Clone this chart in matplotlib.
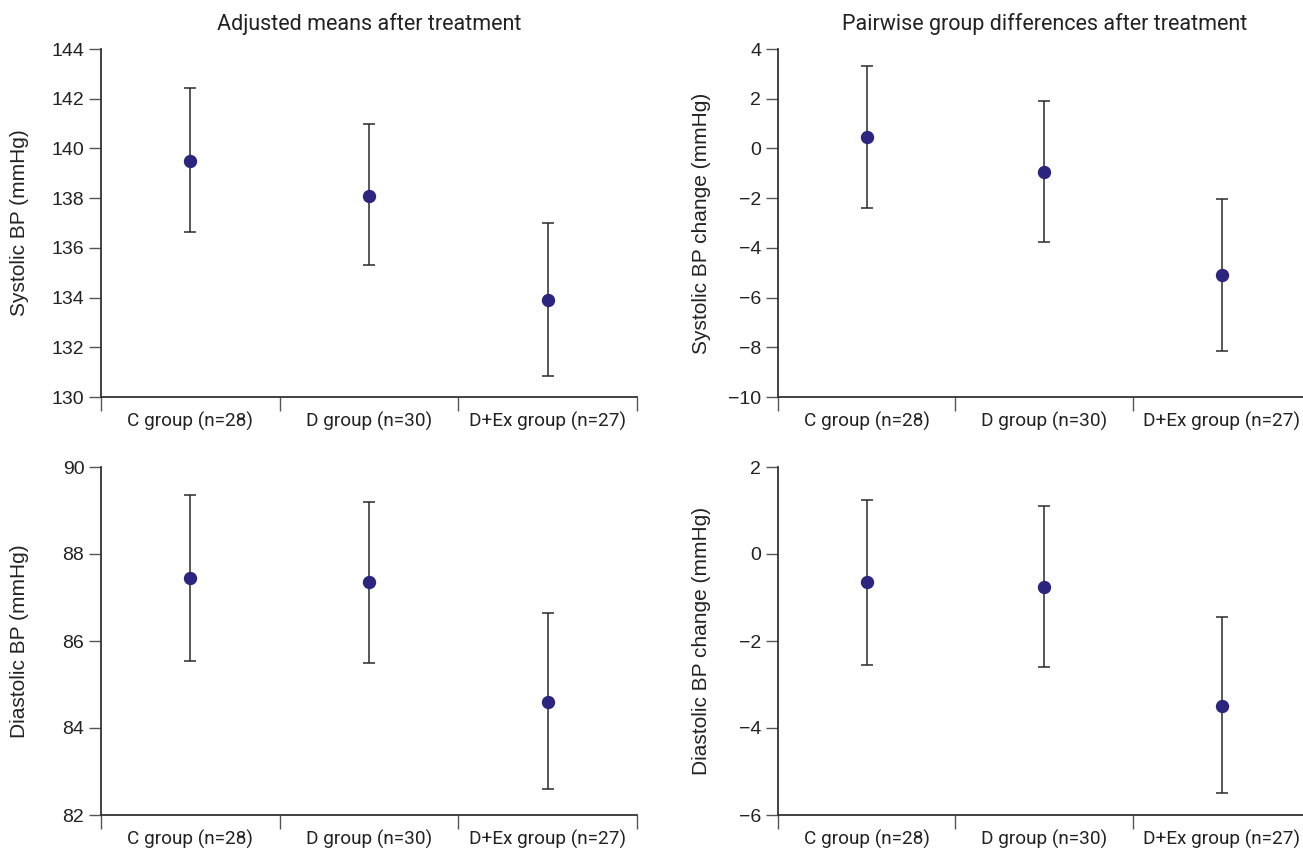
import matplotlib
matplotlib.use("Agg")
import matplotlib.pyplot as plt
from matplotlib import font_manager
from matplotlib.ticker import FixedLocator, NullFormatter, FixedFormatter

names = {f.name for f in font_manager.fontManager.ttflist}
cat_family = ['Roboto', 'DejaVu Sans'] if 'Roboto' in names else ['DejaVu Sans']

plt.rcParams['font.family'] = ['Liberation Sans', 'DejaVu Sans']

groups = ["C group (n=28)", "D group (n=30)", "D+Ex group (n=27)"]

sbp_mean = [139.5, 138.1, 133.9]
sbp_low = [136.65, 135.3, 130.85]
sbp_high = [142.45, 141.0, 137.0]

sbp_diff = [0.45, -0.95, -5.1]
sbp_diff_low = [-2.4, -3.75, -8.15]
sbp_diff_high = [3.3, 1.9, -2.05]

dbp_mean = [87.45, 87.35, 84.6]
dbp_low = [85.55, 85.5, 82.6]
dbp_high = [89.35, 89.2, 86.65]

dbp_diff = [-0.65, -0.75, -3.5]
dbp_diff_low = [-2.55, -2.6, -5.5]
dbp_diff_high = [1.25, 1.1, -1.45]

panels = [
    dict(pos=[101, 49, 536, 348], mean=sbp_mean, lo=sbp_low, hi=sbp_high,
         ylim=(130, 144), yticks=[130, 132, 134, 136, 138, 140, 142, 144],
         ylabel="Systolic BP (mmHg)", title="Adjusted means after treatment",
         neg=False, labx=29),
    dict(pos=[778, 49, 532.5, 348], mean=sbp_diff, lo=sbp_diff_low, hi=sbp_diff_high,
         ylim=(-10, 4), yticks=[-10, -8, -6, -4, -2, 0, 2, 4],
         ylabel="Systolic BP change (mmHg)",
         title="Pairwise group differences after treatment", neg=True, labx=711),
    dict(pos=[101, 467, 536, 348], mean=dbp_mean, lo=dbp_low, hi=dbp_high,
         ylim=(82, 90), yticks=[82, 84, 86, 88, 90],
         ylabel="Diastolic BP (mmHg)", title=None, neg=False, labx=29),
    dict(pos=[778, 467, 532.5, 348], mean=dbp_diff, lo=dbp_diff_low, hi=dbp_diff_high,
         ylim=(-6, 2), yticks=[-6, -4, -2, 0, 2],
         ylabel="Diastolic BP change (mmHg)", title=None, neg=True, labx=711),
]

W, H = 1303, 848
fig = plt.figure(figsize=(W / 100, H / 100), dpi=100)

axis_color = '#333333'
tick_color = '#555555'
text_color = '#222222'
marker_color = '#2b2580'

for p in panels:
    x0, y0, w, h = p['pos']
    ax = fig.add_axes([x0 / W, 1 - (y0 + h) / H, w / W, h / H])
    xs = [0.5, 1.5, 2.5]
    yerr = [[m - l for m, l in zip(p['mean'], p['lo'])],
            [hh - m for m, hh in zip(p['mean'], p['hi'])]]
    ax.errorbar(xs, p['mean'], yerr=yerr, fmt='o', color=marker_color,
                ecolor='#2a2a2a', elinewidth=1.1, capsize=4.4, capthick=1.1,
                markersize=8.6, zorder=3)
    ax.set_xlim(0, 3)
    ax.set_ylim(*p['ylim'])
    for s in ['top', 'right']:
        ax.spines[s].set_visible(False)
    for s in ['left', 'bottom']:
        ax.spines[s].set_color(axis_color)
        ax.spines[s].set_linewidth(1.3)
    ax.xaxis.set_major_locator(FixedLocator([0, 1, 2, 3]))
    ax.xaxis.set_major_formatter(NullFormatter())
    ax.xaxis.set_minor_locator(FixedLocator(xs))
    ax.xaxis.set_minor_formatter(FixedFormatter(groups))
    ax.tick_params(axis='x', which='major', length=10, width=1.0, color=tick_color)
    ax.tick_params(axis='x', which='minor', length=0, pad=10.5, labelsize=13.7,
                   labelcolor=text_color)
    for lab in ax.xaxis.get_minorticklabels():
        lab.set_fontfamily(cat_family)
    ax.set_yticks(p['yticks'])
    if p['neg']:
        ax.set_yticklabels([str(t).replace('-', '\u2212') for t in p['yticks']])
    ax.tick_params(axis='y', length=9, width=1.0, color=tick_color, labelsize=14,
                   labelcolor=text_color, pad=3)
    ax.set_ylabel(p['ylabel'], fontsize=15, color=text_color)
    ax.yaxis.set_label_coords((p['labx'] - x0) / w, 0.5)
    if p['title']:
        ax.set_title(p['title'], fontsize=15.5, color=text_color, pad=13.7,
                     family=cat_family)

fig.savefig('out.png', dpi=100)
